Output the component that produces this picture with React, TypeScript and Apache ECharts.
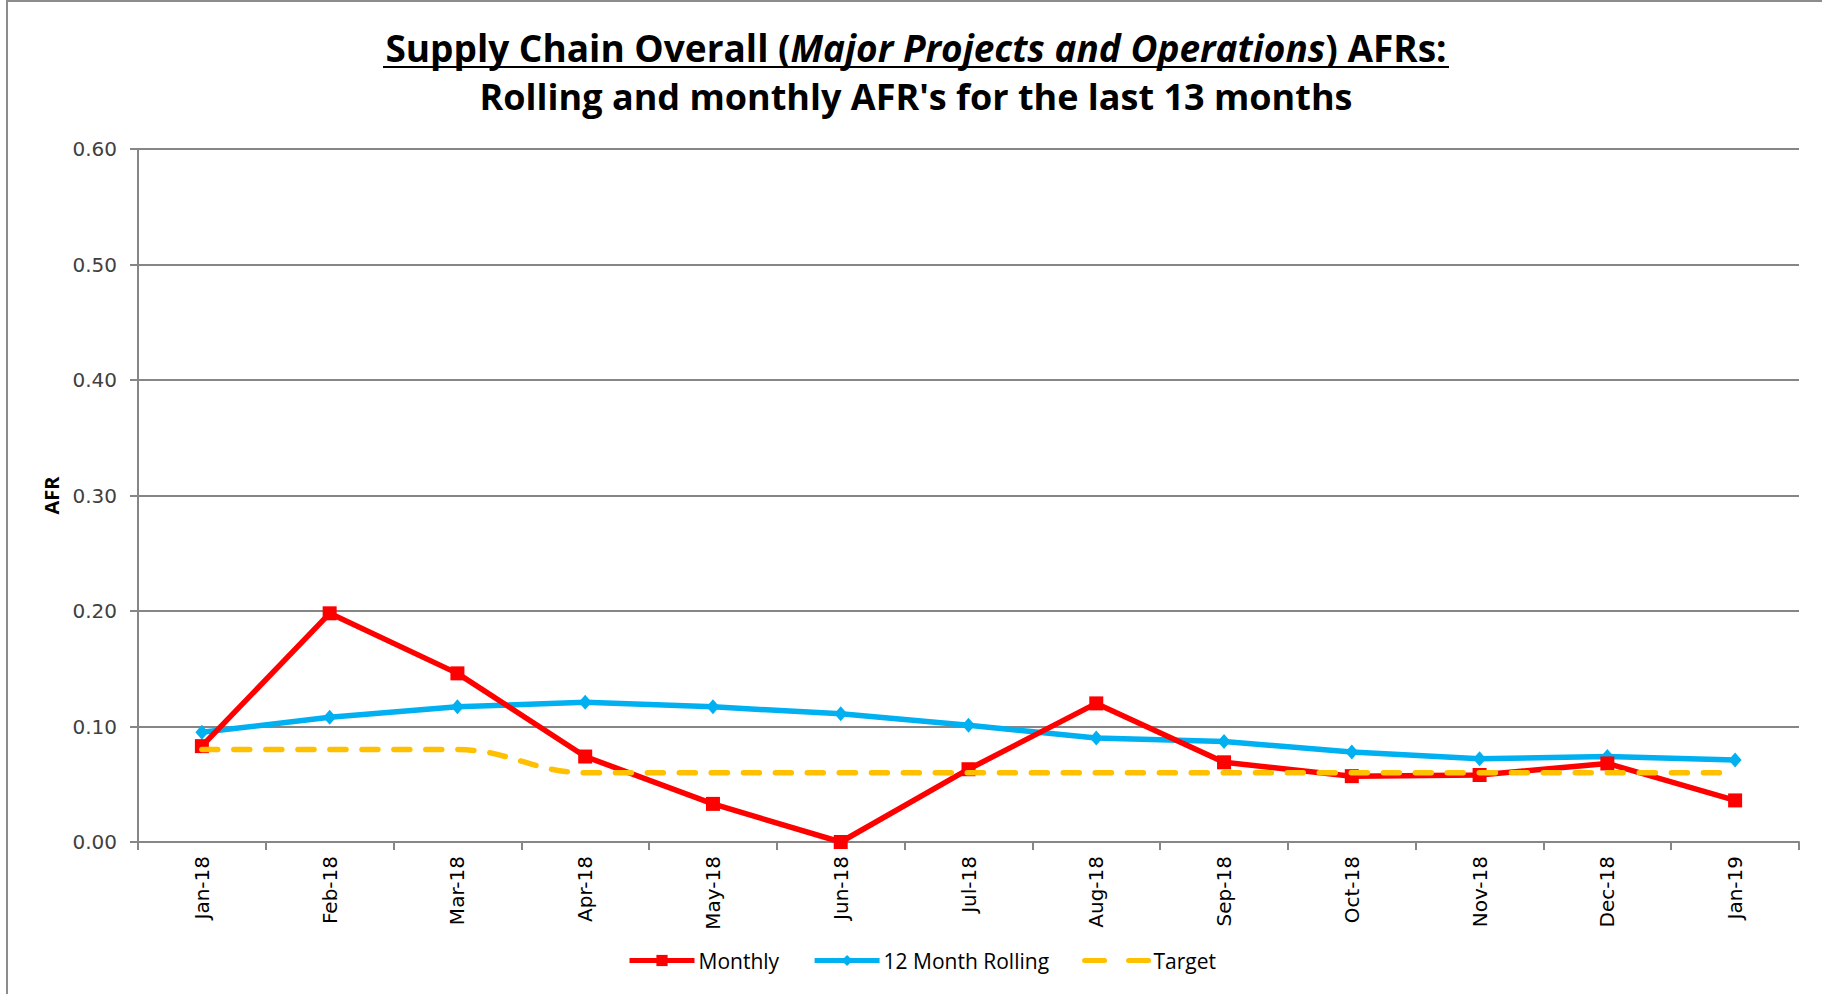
import React, { useEffect, useRef } from "react";
import * as echarts from "echarts";

const categories = ["Jan-18", "Feb-18", "Mar-18", "Apr-18", "May-18", "Jun-18", "Jul-18", "Aug-18", "Sep-18", "Oct-18", "Nov-18", "Dec-18", "Jan-19"];
const monthly = [0.083, 0.198, 0.146, 0.074, 0.033, 0.0, 0.063, 0.12, 0.069, 0.057, 0.058, 0.068, 0.036];
const rolling = [0.095, 0.108, 0.117, 0.121, 0.117, 0.111, 0.101, 0.09, 0.087, 0.078, 0.072, 0.074, 0.071];
const target = [0.08, 0.08, 0.08, 0.06, 0.06, 0.06, 0.06, 0.06, 0.06, 0.06, 0.06, 0.06, 0.06];
const yTicks = { min: 0, max: 0.6, interval: 0.1 };

const TITLE_FONT = "'Open Sans', sans-serif";
const AXIS_FONT = "'DejaVu Sans', Verdana, sans-serif";

export default function App() {
  const ref = useRef<HTMLDivElement>(null);
  useEffect(() => {
    if (!ref.current) return;
    const chart = echarts.init(ref.current, null, { renderer: "svg" });
    chart.setOption({
      animation: false,
      backgroundColor: "#ffffff",
      graphic: [
        {
          type: "rect",
          shape: { x: 7, y: 1, width: 1900, height: 1100 },
          style: { fill: "none", stroke: "#8c8c8c", lineWidth: 2 },
          silent: true,
        },
        {
          type: "text",
          x: 916,
          y: 47,
          style: {
            text: "{b|Supply Chain Overall (}{bi|Major Projects and Operations}{b|) AFRs:}",
            align: "center",
            verticalAlign: "middle",
            rich: {
              b: { fontFamily: TITLE_FONT, fontWeight: "bold", fontSize: 37, fill: "#000" },
              bi: { fontFamily: TITLE_FONT, fontWeight: "bold", fontStyle: "italic", fontSize: 37, fill: "#000" },
            },
          },
        },
        {
          type: "line",
          shape: { x1: 383, y1: 67, x2: 1449, y2: 67 },
          style: { stroke: "#000", lineWidth: 2 },
        },
        {
          type: "text",
          x: 916,
          y: 96,
          style: {
            text: "Rolling and monthly AFR's for the last 13 months",
            align: "center",
            verticalAlign: "middle",
            fontFamily: TITLE_FONT,
            fontWeight: "bold",
            fontSize: 36,
            fill: "#000",
          },
        },
      ],
      grid: { left: 138, right: 23, top: 149, bottom: 152, containLabel: false },
      legend: {
        bottom: 18,
        left: 622,
        padding: 5,
        itemWidth: 65,
        itemHeight: 14,
        itemGap: 33,
        lineStyle: { width: 5 },
        textStyle: { fontFamily: TITLE_FONT, fontSize: 21, color: "#000", padding: [0, 0, 0, -1] },
        data: [
          "Monthly",
          "12 Month Rolling",
          {
            name: "Target",
            itemStyle: { color: "rgba(0,0,0,0)", borderWidth: 0, opacity: 0 },
            lineStyle: { color: "#ffc000", width: 5, type: [20, 24], cap: "round", opacity: 1 },
          },
        ],
      },
      xAxis: {
        type: "category",
        data: categories,
        boundaryGap: true,
        axisLine: { lineStyle: { color: "#868686", width: 2 } },
        axisTick: { show: true, length: 8, lineStyle: { color: "#868686", width: 2 } },
        axisLabel: { rotate: 90, fontFamily: AXIS_FONT, fontSize: 20, color: "#000", margin: 14 },
        splitLine: { show: false },
      },
      yAxis: {
        type: "value",
        min: yTicks.min,
        max: yTicks.max,
        interval: yTicks.interval,
        name: "AFR",
        nameLocation: "middle",
        nameGap: 77,
        nameRotate: 90,
        nameTextStyle: { fontFamily: TITLE_FONT, fontWeight: "bold", fontSize: 20, color: "#000" },
        axisLine: { show: true, lineStyle: { color: "#868686", width: 2 } },
        axisTick: { show: true, length: 8, lineStyle: { color: "#868686", width: 2 } },
        axisLabel: { formatter: (v: number) => v.toFixed(2), fontFamily: AXIS_FONT, fontSize: 20, color: "#404040", margin: 21 },
        splitLine: { show: true, lineStyle: { color: "#868686", width: 2 } },
      },
      series: [
        {
          name: "Monthly",
          type: "line",
          data: monthly,
          symbol: "rect",
          symbolSize: 14,
          itemStyle: { color: "#ff0000" },
          lineStyle: { color: "#ff0000", width: 5.5 },
          z: 3,
        },
        {
          name: "12 Month Rolling",
          type: "line",
          data: rolling,
          symbol: "diamond",
          symbolSize: [13, 15],
          itemStyle: { color: "#00b0f0" },
          lineStyle: { color: "#00b0f0", width: 5.5 },
          z: 2,
        },
        {
          name: "Target",
          type: "line",
          data: target,
          symbol: "none",
          smooth: 0.4,
          smoothMonotone: "x",
          itemStyle: { color: "#ffc000" },
          lineStyle: { color: "#ffc000", width: 5.5, type: [16, 16], cap: "round" },
          z: 4,
        },
      ],
    });
    return () => chart.dispose();
  }, []);
  return <div ref={ref} style={{ position: "fixed", left: 0, top: 0, width: 1822, height: 994 }} />;
}
